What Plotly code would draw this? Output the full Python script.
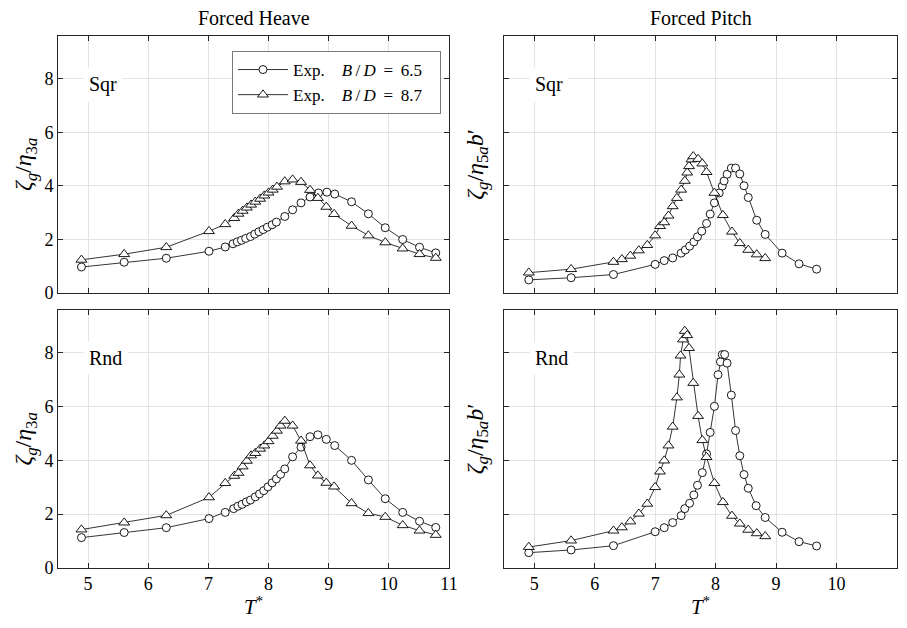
import plotly.graph_objects as go

# ---------------- data ----------------
# Forced heave, square bilge
heave_sqr_T65 = [4.89, 5.60, 6.30, 7.01, 7.28, 7.41, 7.48, 7.55, 7.62, 7.70, 7.77, 7.84, 7.91, 7.98, 8.06, 8.13,
                 8.27, 8.40, 8.54, 8.69, 8.83, 8.97, 9.10, 9.38, 9.66, 9.94, 10.23, 10.51, 10.78]
heave_sqr_Z65 = [0.96, 1.14, 1.29, 1.55, 1.71, 1.83, 1.90, 1.96, 2.03, 2.10, 2.19, 2.28, 2.36, 2.45, 2.54, 2.64,
                 2.85, 3.10, 3.36, 3.58, 3.73, 3.76, 3.69, 3.40, 2.95, 2.43, 1.99, 1.70, 1.49]
heave_sqr_T87 = [4.89, 5.60, 6.30, 7.01, 7.28, 7.43, 7.50, 7.57, 7.64, 7.71, 7.78, 7.86, 7.93, 8.00, 8.07, 8.14,
                 8.27, 8.40, 8.54, 8.69, 8.82, 8.96, 9.09, 9.38, 9.66, 9.94, 10.23, 10.51, 10.78]
heave_sqr_Z87 = [1.23, 1.44, 1.70, 2.30, 2.56, 2.79, 2.95, 3.06, 3.18, 3.29, 3.40, 3.51, 3.63, 3.74, 3.85, 3.96,
                 4.16, 4.23, 4.14, 3.84, 3.54, 3.21, 2.94, 2.50, 2.14, 1.88, 1.65, 1.44, 1.30]

# Forced heave, round bilge
heave_rnd_T65 = [4.89, 5.60, 6.30, 7.01, 7.28, 7.42, 7.49, 7.56, 7.63, 7.70, 7.78, 7.85, 7.92, 7.99, 8.06, 8.13,
                 8.20, 8.27, 8.40, 8.54, 8.69, 8.82, 8.96, 9.10, 9.38, 9.66, 9.94, 10.23, 10.51, 10.78]
heave_rnd_Z65 = [1.12, 1.31, 1.49, 1.83, 2.06, 2.20, 2.29, 2.36, 2.45, 2.52, 2.64, 2.75, 2.87, 3.01, 3.16, 3.31,
                 3.48, 3.68, 4.13, 4.49, 4.88, 4.95, 4.78, 4.55, 4.00, 3.27, 2.57, 2.06, 1.73, 1.50]
heave_rnd_T87 = [4.89, 5.60, 6.30, 7.01, 7.28, 7.43, 7.50, 7.57, 7.64, 7.71, 7.78, 7.86, 7.93, 8.00, 8.07, 8.14,
                 8.20, 8.27, 8.40, 8.54, 8.69, 8.82, 8.96, 9.09, 9.38, 9.66, 9.94, 10.23, 10.51, 10.78]
heave_rnd_Z87 = [1.42, 1.68, 1.95, 2.62, 3.15, 3.42, 3.53, 3.77, 3.98, 4.18, 4.27, 4.43, 4.55, 4.71, 4.91, 5.10,
                 5.29, 5.47, 5.29, 4.73, 3.81, 3.43, 3.16, 3.02, 2.40, 2.03, 1.89, 1.58, 1.38, 1.22]

# Forced pitch, square bilge
pitch_sqr_T65 = [4.91, 5.61, 6.31, 7.00, 7.15, 7.29, 7.43, 7.50, 7.57, 7.64, 7.70, 7.77, 7.85, 7.91, 7.98, 8.06,
                 8.11, 8.14, 8.19, 8.26, 8.33, 8.40, 8.47, 8.54, 8.68, 8.82, 9.10, 9.38, 9.67]
pitch_sqr_Z65 = [0.48, 0.56, 0.68, 1.06, 1.20, 1.30, 1.48, 1.60, 1.74, 1.90, 2.09, 2.30, 2.59, 2.94, 3.36, 3.73,
                 3.99, 4.18, 4.43, 4.66, 4.66, 4.44, 4.00, 3.56, 2.71, 2.18, 1.48, 1.08, 0.88]
pitch_sqr_T87 = [4.91, 5.61, 6.31, 6.45, 6.59, 6.73, 6.87, 7.00, 7.08, 7.15, 7.22, 7.29, 7.36, 7.43, 7.49, 7.53,
                 7.56, 7.60, 7.63, 7.71, 7.78, 7.85, 7.98, 8.12, 8.27, 8.40, 8.54, 8.68, 8.82]
pitch_sqr_Z87 = [0.75, 0.88, 1.15, 1.25, 1.38, 1.58, 1.78, 2.14, 2.49, 2.63, 2.88, 3.23, 3.54, 3.85, 4.18, 4.49,
                 4.73, 4.98, 5.10, 5.00, 4.83, 4.51, 3.73, 2.90, 2.28, 1.85, 1.60, 1.43, 1.29]

# Forced pitch, round bilge
pitch_rnd_T65 = [4.91, 5.61, 6.31, 7.00, 7.15, 7.29, 7.43, 7.49, 7.57, 7.64, 7.70, 7.78, 7.85, 7.91, 7.98, 8.04,
                 8.08, 8.11, 8.15, 8.19, 8.26, 8.33, 8.40, 8.47, 8.54, 8.67, 8.82, 9.10, 9.38, 9.67]
pitch_rnd_Z65 = [0.56, 0.66, 0.82, 1.34, 1.49, 1.68, 1.94, 2.20, 2.40, 2.71, 3.07, 3.54, 4.24, 5.04, 6.01, 7.19,
                 7.67, 7.94, 7.94, 7.62, 6.43, 5.11, 4.17, 3.47, 2.96, 2.31, 1.87, 1.32, 0.97, 0.81]
pitch_rnd_T87 = [4.91, 5.61, 6.31, 6.45, 6.59, 6.73, 6.87, 7.00, 7.08, 7.15, 7.22, 7.29, 7.36, 7.40, 7.42, 7.46,
                 7.49, 7.53, 7.56, 7.63, 7.71, 7.78, 7.85, 7.98, 8.12, 8.27, 8.40, 8.54, 8.68, 8.82]
pitch_rnd_Z87 = [0.77, 1.01, 1.38, 1.50, 1.72, 2.01, 2.38, 3.00, 3.58, 3.99, 4.55, 5.25, 6.34, 7.19, 7.90, 8.50,
                 8.82, 8.66, 8.18, 6.88, 5.65, 4.75, 4.12, 3.15, 2.44, 1.93, 1.64, 1.41, 1.28, 1.17]

NB = "\u00a0"
TH = "\u2009"
series_names = [f"Exp.{NB}{NB}{NB}{NB}<i>B</i>{TH}/{TH}<i>D</i>{NB}{TH}={TH}{NB}6.5{NB}{NB}{NB}",
                f"Exp.{NB}{NB}{NB}{NB}<i>B</i>{TH}/{TH}<i>D</i>{NB}{TH}={TH}{NB}8.7{NB}{NB}{NB}"]
x_ticks = [5, 6, 7, 8, 9, 10, 11]
y_ticks = [0, 2, 4, 6, 8]
col_titles = ["Forced Heave", "Forced Pitch"]
shape_labels = ["Sqr", "Rnd"]

# ---------------- figure ----------------
FONT = "Liberation Serif"
INK = "#262626"
GRID = "#e3e3e3"

fig = go.Figure()

panels = [
    (1, heave_sqr_T65, heave_sqr_Z65, heave_sqr_T87, heave_sqr_Z87),
    (2, pitch_sqr_T65, pitch_sqr_Z65, pitch_sqr_T87, pitch_sqr_Z87),
    (3, heave_rnd_T65, heave_rnd_Z65, heave_rnd_T87, heave_rnd_Z87),
    (4, pitch_rnd_T65, pitch_rnd_Z65, pitch_rnd_T87, pitch_rnd_Z87),
]

for idx, t65, z65, t87, z87 in panels:
    xa = "x" if idx == 1 else f"x{idx}"
    ya = "y" if idx == 1 else f"y{idx}"
    fig.add_trace(go.Scatter(
        x=t65, y=z65, mode="lines+markers", name=series_names[0],
        showlegend=(idx == 1), xaxis=xa, yaxis=ya, cliponaxis=False,
        line=dict(color="black", width=0.8),
        marker=dict(symbol="circle", size=8, color="white", line=dict(color="black", width=0.9)),
    ))
    fig.add_trace(go.Scatter(
        x=t87, y=z87, mode="lines+markers", name=series_names[1],
        showlegend=(idx == 1), xaxis=xa, yaxis=ya, cliponaxis=False,
        line=dict(color="black", width=0.8),
        marker=dict(symbol="triangle-up", size=9.5, color="white", line=dict(color="black", width=0.9)),
    ))

W, H = 907, 628
xdom = {"L": [58 / W, 449 / W], "R": [504 / W, 897 / W]}
ydom = {"T": [(H - 292.7) / H, (H - 36) / H], "B": [(H - 567.7) / H, (H - 310) / H]}

def xaxis_cfg(dom, anchor, labels, right=False):
    cfg = dict(domain=dom, anchor=anchor, range=[4.5, 11], tickvals=x_ticks, automargin=False,
               showline=True, linecolor=INK, linewidth=1, mirror="allticks",
               ticks="inside", ticklen=5, tickcolor=INK, tickwidth=1,
               showgrid=True, gridcolor=GRID, gridwidth=1, zeroline=False,
               showticklabels=labels, tickfont=dict(family=FONT, size=18, color="black"))
    if right:
        cfg["ticktext"] = [str(v) for v in x_ticks[:-1]] + [""]
    if labels:
        cfg["title"] = dict(text="<i>T</i><sup>*</sup>", font=dict(family=FONT, size=21, color="black"), standoff=6)
    return cfg

def yaxis_cfg(dom, anchor, labels, title):
    return dict(domain=dom, anchor=anchor, range=[0, 9.6], tickvals=y_ticks, automargin=False,
                showline=True, linecolor=INK, linewidth=1, mirror="allticks",
                ticks="inside", ticklen=5, tickcolor=INK, tickwidth=1,
                showgrid=True, gridcolor=GRID, gridwidth=1, zeroline=False,
                showticklabels=labels, tickfont=dict(family=FONT, size=18, color="black"),
                title=dict(text=title, font=dict(family=FONT, size=24, color="black"),
                           standoff=5 if labels else 12))

ylab_heave = "<i>ζ<sub>g</sub></i>/<i>η</i><sub>3<i>a</i></sub>"
ylab_pitch = "<i>ζ<sub>g</sub></i>/<i>η</i><sub>5<i>a</i></sub><i>b</i>′"

fig.update_layout(
    width=W, height=H,
    margin=dict(l=0, r=0, t=0, b=0, autoexpand=False),
    paper_bgcolor="white", plot_bgcolor="white",
    font=dict(family=FONT, color="black"),
    xaxis=xaxis_cfg(xdom["L"], "y", False),
    yaxis=yaxis_cfg(ydom["T"], "x", True, ylab_heave),
    xaxis2=xaxis_cfg(xdom["R"], "y2", False, right=True),
    yaxis2=yaxis_cfg(ydom["T"], "x2", False, ylab_pitch),
    xaxis3=xaxis_cfg(xdom["L"], "y3", True),
    yaxis3=yaxis_cfg(ydom["B"], "x3", True, ylab_heave),
    xaxis4=xaxis_cfg(xdom["R"], "y4", True, right=True),
    yaxis4=yaxis_cfg(ydom["B"], "x4", False, ylab_pitch),
    showlegend=True,
    legend=dict(x=232 / W, y=(H - 51) / H, xanchor="left", yanchor="top",
                bgcolor="white", bordercolor="#7a7a7a", borderwidth=1,
                font=dict(family=FONT, size=17, color="black"),
                itemwidth=50, tracegroupgap=0),
)

# column titles
for i, t in enumerate(col_titles):
    dom = xdom["L"] if i == 0 else xdom["R"]
    fig.add_annotation(text=t, xref="paper", yref="paper", x=(dom[0] + dom[1]) / 2, y=1 - 18 / H,
                       xanchor="center", yanchor="middle", showarrow=False,
                       font=dict(family=FONT, size=20, color="black"))

# panel labels
for idx, lab in [(1, shape_labels[0]), (2, shape_labels[0]), (3, shape_labels[1]), (4, shape_labels[1])]:
    xr = "x" if idx == 1 else f"x{idx}"
    yr = "y" if idx == 1 else f"y{idx}"
    fig.add_annotation(text=lab, xref=xr, yref=yr, x=5, y=7.8, xanchor="left", yanchor="middle",
                       xshift=-5, showarrow=False, bgcolor="white", borderpad=5,
                       font=dict(family=FONT, size=20, color="black"))

fig.write_html("out.html", config={"displayModeBar": False},
               post_script="document.body.style.margin='0';")
